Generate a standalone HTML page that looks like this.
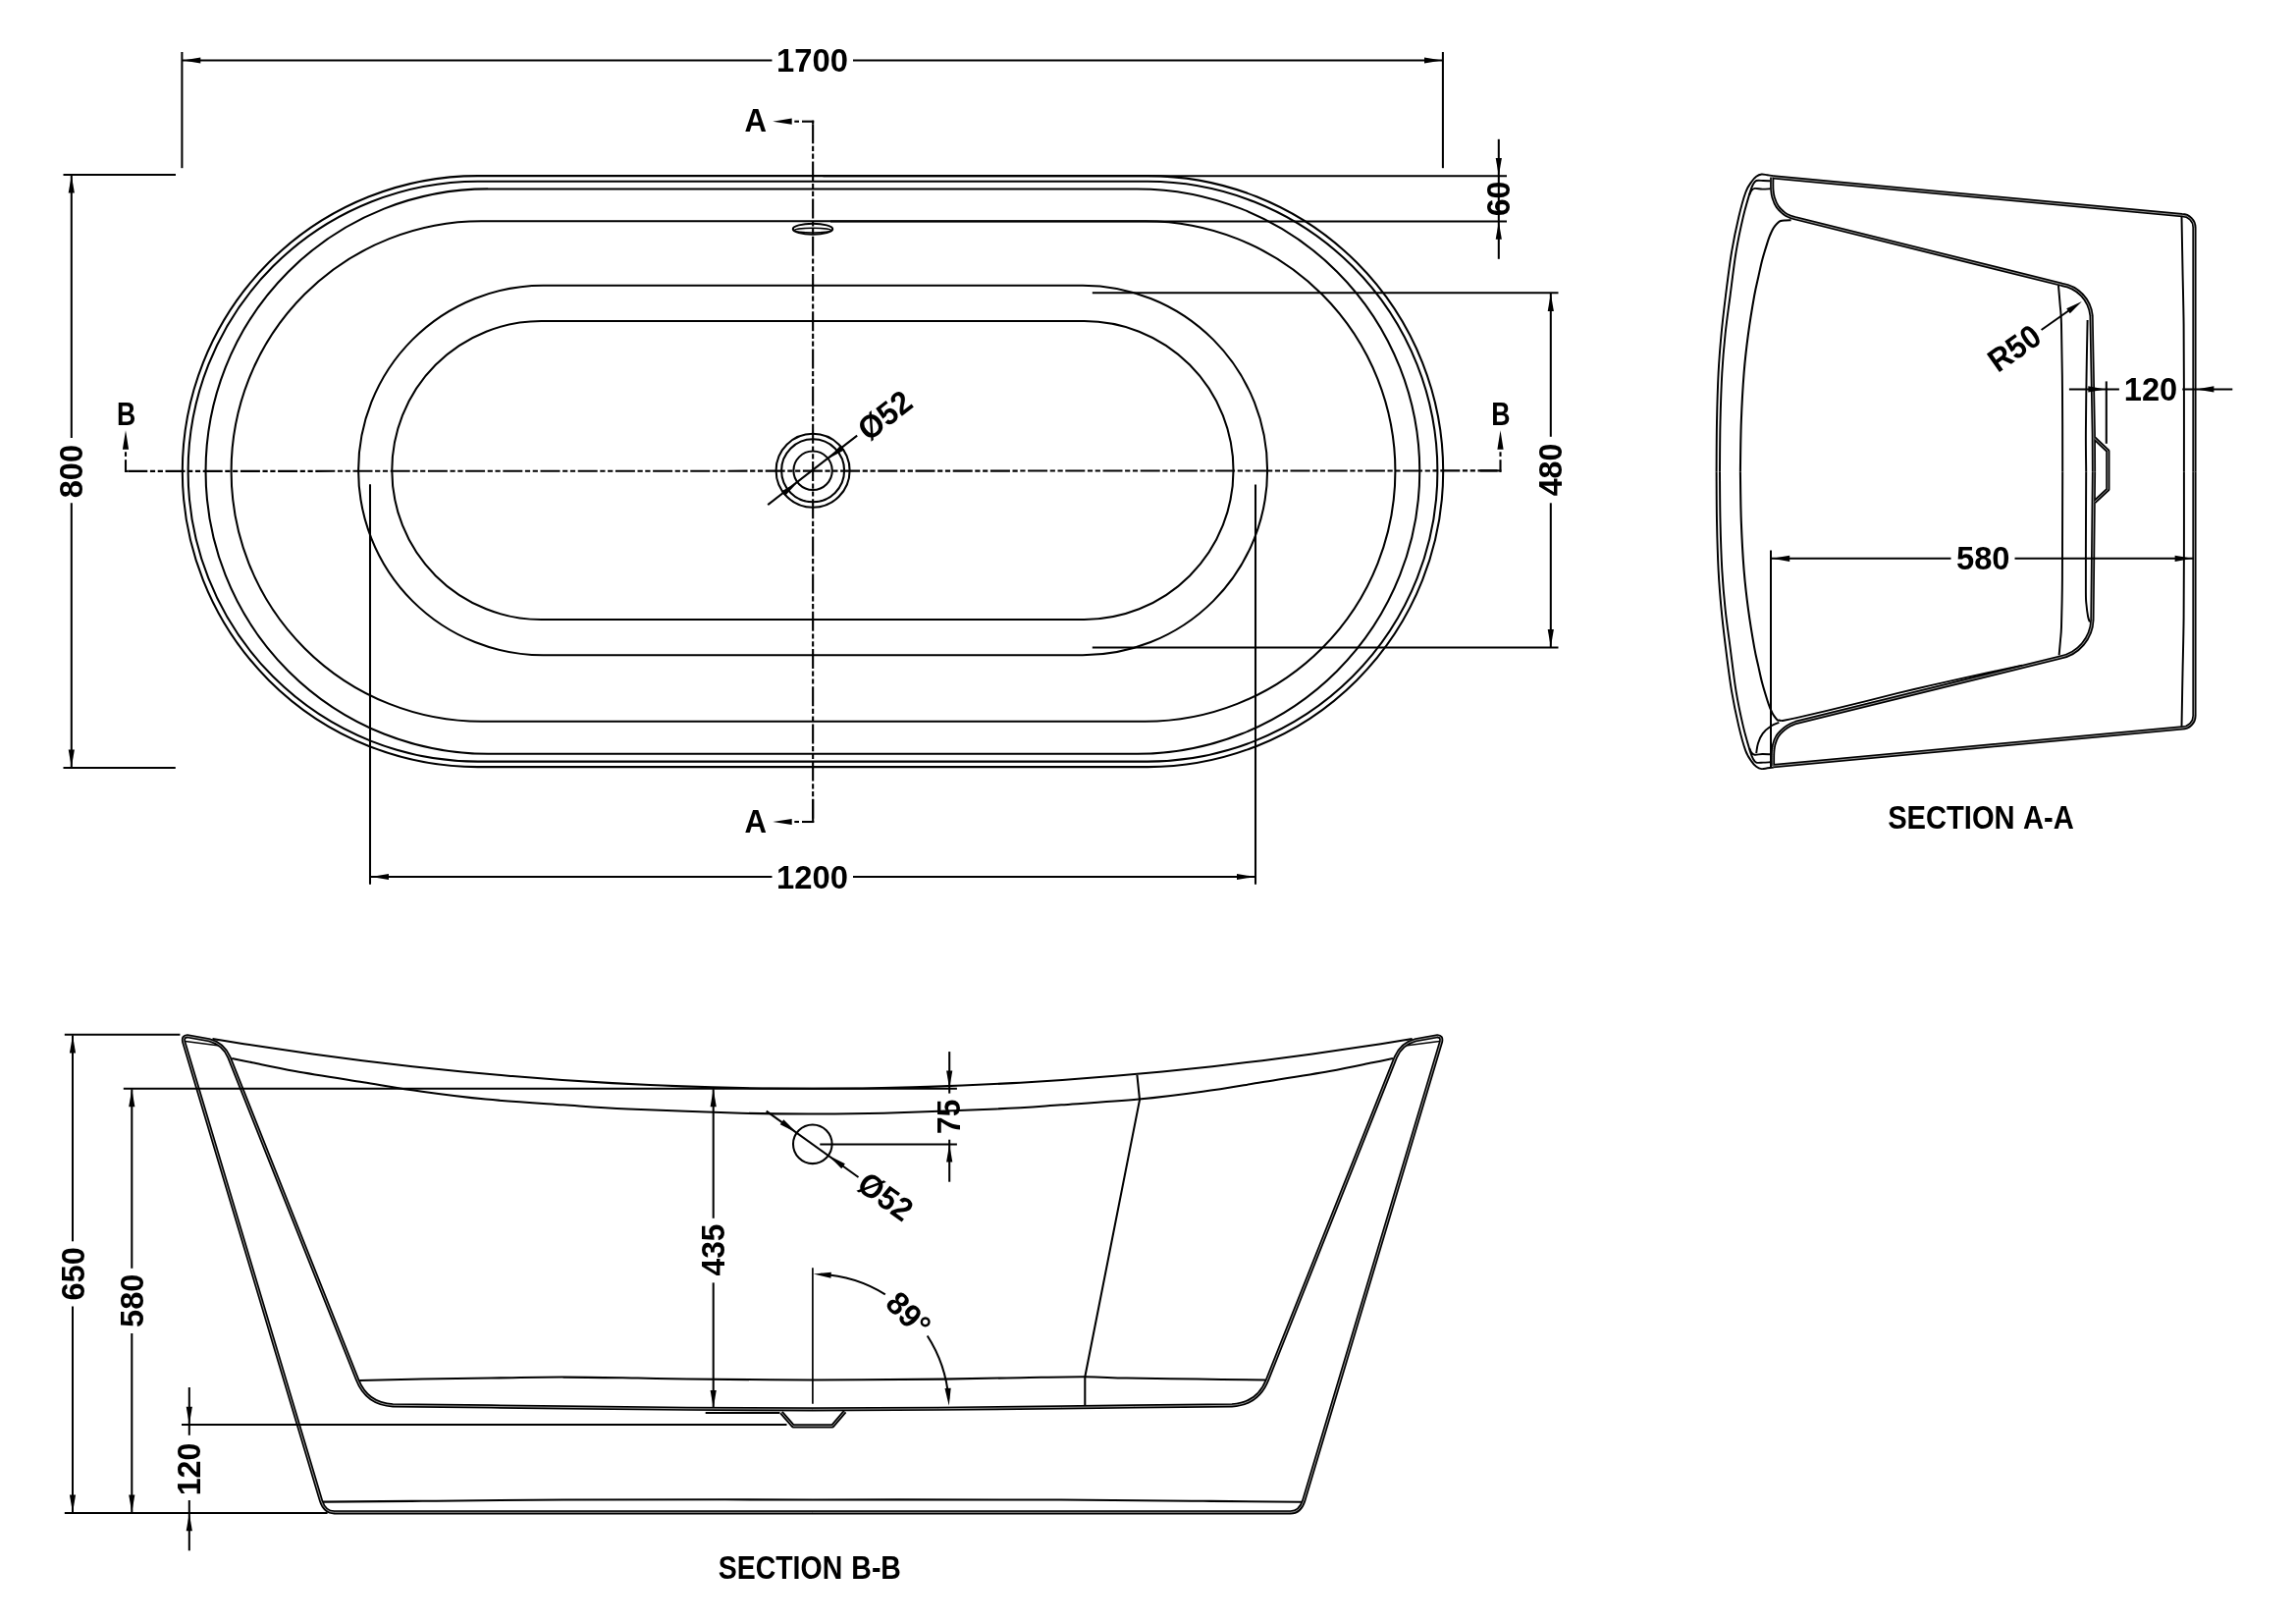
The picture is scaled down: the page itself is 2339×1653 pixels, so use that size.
<!DOCTYPE html>
<html lang="en"><head><meta charset="utf-8"><title>Freestanding bath 1700 x 800 technical drawing</title>
<style>html,body{margin:0;padding:0;background:#fff}body{width:2339px;height:1653px;overflow:hidden}svg{display:block;will-change:transform}</style>
</head><body>
<svg width="2339" height="1653" viewBox="0 0 2339 1653" fill="none" stroke="#000" stroke-width="2.05" stroke-linecap="butt" stroke-linejoin="round" font-family="'Liberation Sans', sans-serif" font-weight="bold">
<style>text{fill:#000;stroke:none}.a{fill:#000;stroke:none}</style>
<g id="plan">
<path d="M486.7 179.1 L1169.3 179.1 A301 301 0 0 1 1169.3 781.1 L486.7 781.1 A301 301 0 0 1 486.7 179.1 Z"/>
<path d="M487 184.8 L1169 184.8 A295.4 295.4 0 0 1 1169 775.6 L487 775.6 A295.4 295.4 0 0 1 487 184.8 Z"/>
<path d="M497.1 192.4 L1158.7 192.4 A287.7 287.7 0 0 1 1158.7 767.8 L497.1 767.8 A287.7 287.7 0 0 1 497.1 192.4 Z"/>
<path d="M490.4 225.2 L1166.6 225.2 A254.8 254.8 0 0 1 1166.6 734.8 L490.4 734.8 A254.8 254.8 0 0 1 490.4 225.2 Z"/>
<path d="M553.3 290.7 L1102.9 290.7 A188.3 188.3 0 0 1 1102.9 667.3 L553.3 667.3 A188.3 188.3 0 0 1 553.3 290.7 Z"/>
<path d="M551.3 327 L1104.5 327 A152 152 0 0 1 1104.5 631 L551.3 631 A152 152 0 0 1 551.3 327 Z"/>
<circle cx="828.1" cy="479.3" r="37.5"/>
<circle cx="828.1" cy="479.3" r="32"/>
<circle cx="828.1" cy="479.3" r="19.7"/>
<ellipse cx="828" cy="233.2" rx="20.2" ry="5.4"/>
<ellipse cx="828" cy="234.6" rx="18.6" ry="2.3" stroke-width="1.4"/>
</g>
<g id="centre" stroke-width="2.1">
<line x1="127.3" y1="479.9" x2="130.3" y2="479.9"/>
<line x1="130.3" y1="479.9" x2="1528.5" y2="479.4" stroke-dasharray="20 2.6 5.2 2.6 5.2 2.6"/>
<line x1="1508" y1="479.4" x2="1529.4" y2="479.4"/>
<line x1="828.15" y1="122.7" x2="828.15" y2="126.2"/>
<line x1="828.15" y1="126.2" x2="828.15" y2="837" stroke-dasharray="20 2.6 5.2 2.6 5.2 2.6"/>
<line x1="828.15" y1="814" x2="828.15" y2="838"/>
<line x1="128" y1="468.2" x2="128" y2="480.9"/>
<line x1="128" y1="460.3" x2="128" y2="464.9"/>
<polygon class="a" points="128,438.2 131.1,457.7 124.9,457.7"/>
<line x1="1528.5" y1="468.2" x2="1528.5" y2="480.9"/>
<line x1="1528.5" y1="460.3" x2="1528.5" y2="464.9"/>
<polygon class="a" points="1528.5,438.2 1531.6,457.7 1525.4,457.7"/>
<line x1="817" y1="123.7" x2="829.2" y2="123.7"/>
<line x1="809.3" y1="123.7" x2="814" y2="123.7"/>
<polygon class="a" points="787.2,123.7 806.7,120.6 806.7,126.8"/>
<line x1="817" y1="837" x2="829.2" y2="837"/>
<line x1="809.3" y1="837" x2="814" y2="837"/>
<polygon class="a" points="787.2,837 806.7,833.9 806.7,840.1"/>
</g>
<g id="dims">
<line x1="185.4" y1="53" x2="185.4" y2="171.2"/>
<line x1="1469.9" y1="53" x2="1469.9" y2="171.2"/>
<line x1="186" y1="61.5" x2="786.5" y2="61.5"/>
<line x1="869" y1="61.5" x2="1469.5" y2="61.5"/>
<polygon class="a" points="186.3,61.5 204.3,58.4 204.3,64.6"/>
<polygon class="a" points="1469,61.5 1451,64.6 1451,58.4"/>
<text font-size="33" transform="translate(827.8 61.75) scale(0.9934 1)" x="-37.04" y="11.34">1700</text>
<line x1="64.5" y1="178" x2="179" y2="178"/>
<line x1="64.5" y1="782" x2="178.8" y2="782"/>
<line x1="72.8" y1="178.5" x2="72.8" y2="446"/>
<line x1="72.8" y1="512.3" x2="72.8" y2="781.5"/>
<polygon class="a" points="72.8,178.6 75.9,196.6 69.7,196.6"/>
<polygon class="a" points="72.8,781.4 69.7,763.4 75.9,763.4"/>
<text font-size="33" transform="translate(72.65 480.3) rotate(-90) scale(0.9879 1)" x="-27.39" y="11.34">800</text>
<line x1="838.4" y1="179.3" x2="1535" y2="179.3"/>
<line x1="846" y1="225.5" x2="1535" y2="225.5"/>
<line x1="1526.8" y1="141.8" x2="1526.8" y2="263.8"/>
<polygon class="a" points="1526.8,179 1523.7,161 1529.9,161"/>
<polygon class="a" points="1526.8,225.8 1529.9,243.8 1523.7,243.8"/>
<text font-size="33" transform="translate(1526.6 202.5) rotate(-90) scale(0.9773 1)" x="-18.27" y="11.34">60</text>
<line x1="1112.8" y1="298.3" x2="1587.5" y2="298.3"/>
<line x1="1112.8" y1="659.5" x2="1587.5" y2="659.5"/>
<line x1="1579.8" y1="298.8" x2="1579.8" y2="444.8"/>
<line x1="1579.8" y1="512.3" x2="1579.8" y2="659"/>
<polygon class="a" points="1579.8,298.9 1582.9,316.9 1576.7,316.9"/>
<polygon class="a" points="1579.8,658.9 1576.7,640.9 1582.9,640.9"/>
<text font-size="33" transform="translate(1579.7 478.9) rotate(-90) scale(0.9772 1)" x="-27.1" y="11.34">480</text>
<line x1="377" y1="493.2" x2="377" y2="900.8"/>
<line x1="1279" y1="493.4" x2="1279" y2="900.8"/>
<line x1="377.5" y1="893" x2="786.5" y2="893"/>
<line x1="869" y1="893" x2="1278.5" y2="893"/>
<polygon class="a" points="378,893 396,889.9 396,896.1"/>
<polygon class="a" points="1278,893 1260,896.1 1260,889.9"/>
<text font-size="33" transform="translate(827.8 893.4) scale(0.9934 1)" x="-37.04" y="11.34">1200</text>
<line x1="782.2" y1="514.1" x2="873.2" y2="443.6"/>
<polygon class="a" points="843.67,467.23 856.54,453.31 860.34,458.21"/>
<polygon class="a" points="812.53,491.37 799.66,505.29 795.86,500.39"/>
<text font-size="33" transform="translate(901.5 423.2) rotate(-37.8) scale(0.9543 1)" x="-31.19" y="11.26">Ø52</text>
<text font-size="33" transform="translate(769.65 122.65) scale(0.9453 1)" x="-11.88" y="11.34">A</text>
<text font-size="33" transform="translate(769.65 836.4) scale(0.9453 1)" x="-11.88" y="11.34">A</text>
<text font-size="33" transform="translate(129.05 421.2) scale(0.8097 1)" x="-12.29" y="11.34">B</text>
<text font-size="33" transform="translate(1529.3 421.2) scale(0.8097 1)" x="-12.29" y="11.34">B</text>
</g>
<g id="bb">
<path d="M827.6 1540.35 L1314.6 1540.3 Q1324.4 1540.3 1328.15 1528.5 L1468.05 1060.8 Q1469.1 1055.4 1464.45 1055.3 L1442.2 1059.25 Q1427.95 1062.75 1421.75 1076.85 L1291.1 1405.3 Q1281.45 1429.95 1255 1431.3 L1155.2 1432.45 L1081.2 1433.4 L955.2 1434.75 L827.6 1435.35 L700 1434.75 L574 1433.4 L500 1432.45 L400.2 1431.3 Q373.75 1429.95 364.1 1405.3 L233.45 1076.85 Q227.25 1062.75 213 1059.25 L190.75 1055.3 Q186.1 1055.4 187.15 1060.8 L327.05 1528.5 Q330.8 1540.3 340.6 1540.3 L827.6 1540.35 Z" stroke-width="4.2"/>
<path d="M796 1438.6 L808 1452.4 L848.1 1452.4 L860.7 1437.6" stroke-width="4.2"/>
<path d="M827.6 1540.35 L1314.6 1540.3 Q1324.4 1540.3 1328.15 1528.5 L1468.05 1060.8 Q1469.1 1055.4 1464.45 1055.3 L1442.2 1059.25 Q1427.95 1062.75 1421.75 1076.85 L1291.1 1405.3 Q1281.45 1429.95 1255 1431.3 L1155.2 1432.45 L1081.2 1433.4 L955.2 1434.75 L827.6 1435.35 L700 1434.75 L574 1433.4 L500 1432.45 L400.2 1431.3 Q373.75 1429.95 364.1 1405.3 L233.45 1076.85 Q227.25 1062.75 213 1059.25 L190.75 1055.3 Q186.1 1055.4 187.15 1060.8 L327.05 1528.5 Q330.8 1540.3 340.6 1540.3 L827.6 1540.35 Z" stroke-width="0.85" stroke="#b0b0b0"/>
<path d="M796 1438.6 L808 1452.4 L848.1 1452.4 L860.7 1437.6" stroke-width="0.85" stroke="#b0b0b0"/>
<line x1="188.6" y1="1060.6" x2="221.6" y2="1064.8" stroke-width="1.5"/>
<line x1="1466.6" y1="1060.6" x2="1433.6" y2="1064.8" stroke-width="1.5"/>
<path d="M216.5 1058 C224.99 1059.35 250.45 1063.52 267.43 1066.11 C284.4 1068.69 301.38 1071.16 318.35 1073.51 C335.33 1075.86 352.3 1078.09 369.27 1080.2 C386.25 1082.32 403.23 1084.31 420.2 1086.19 C437.18 1088.07 454.15 1089.84 471.12 1091.48 C488.1 1093.13 505.07 1094.65 522.05 1096.06 C539.02 1097.47 556 1098.76 572.97 1099.94 C589.95 1101.11 606.93 1102.17 623.9 1103.11 C640.88 1104.05 657.85 1104.87 674.83 1105.58 C691.8 1106.28 708.77 1106.87 725.75 1107.34 C742.73 1107.81 759.7 1108.16 776.68 1108.4 C793.65 1108.63 810.62 1108.75 827.6 1108.75 C844.58 1108.75 861.55 1108.63 878.52 1108.4 C895.5 1108.16 912.48 1107.81 929.45 1107.34 C946.43 1106.87 963.4 1106.28 980.38 1105.58 C997.35 1104.87 1014.32 1104.05 1031.3 1103.11 C1048.28 1102.17 1065.25 1101.11 1082.23 1099.94 C1099.2 1098.76 1116.18 1097.47 1133.15 1096.06 C1150.12 1094.65 1167.1 1093.13 1184.08 1091.48 C1201.05 1089.84 1218.03 1088.07 1235 1086.19 C1251.97 1084.31 1268.95 1082.32 1285.93 1080.2 C1302.9 1078.09 1319.88 1075.86 1336.85 1073.51 C1353.82 1071.16 1370.8 1068.69 1387.78 1066.11 C1404.75 1063.52 1430.21 1059.35 1438.7 1058"/>
<path d="M236.2 1077.9 C239.68 1078.63 246.35 1080.12 257.1 1082.3 C267.85 1084.48 281.88 1087.67 300.7 1091 C319.52 1094.33 348.45 1098.83 370 1102.3 C391.55 1105.77 409.17 1108.92 430 1111.8 C450.83 1114.68 471 1117.35 495 1119.6 C519 1121.85 549.83 1123.67 574 1125.3 C598.17 1126.93 609.83 1128 640 1129.4 C670.17 1130.8 723.73 1132.85 755 1133.7 C786.27 1134.55 803.4 1134.5 827.6 1134.5 C851.8 1134.5 868.93 1134.55 900.2 1133.7 C931.47 1132.85 985.03 1130.8 1015.2 1129.4 C1045.37 1128 1057.03 1126.93 1081.2 1125.3 C1105.37 1123.67 1136.2 1121.85 1160.2 1119.6 C1184.2 1117.35 1204.37 1114.68 1225.2 1111.8 C1246.03 1108.92 1263.65 1105.77 1285.2 1102.3 C1306.75 1098.83 1335.68 1094.33 1354.5 1091 C1373.32 1087.67 1387.35 1084.48 1398.1 1082.3 C1408.85 1080.12 1415.52 1078.63 1419 1077.9"/>
<path d="M366.2 1405.9 C376.83 1405.67 407.7 1404.9 430 1404.5 C452.3 1404.1 476 1403.82 500 1403.5 C524 1403.18 549 1402.58 574 1402.6 C599 1402.62 629 1403.27 650 1403.6 C671 1403.93 670.4 1404.3 700 1404.6 C729.6 1404.9 784.27 1405.4 827.6 1405.4 C870.93 1405.4 924.6 1404.97 960 1404.6 C995.4 1404.23 1015.78 1403.58 1040 1403.2 C1064.22 1402.82 1087.3 1402.23 1105.3 1402.3 C1123.3 1402.37 1128.88 1403.22 1148 1403.6 C1167.12 1403.98 1196.47 1404.28 1220 1404.6 C1243.53 1404.92 1277.67 1405.35 1289.2 1405.5"/>
<path d="M329 1529.6 C345.83 1529.47 389.17 1529.17 430 1528.8 C470.83 1528.43 507.73 1527.63 574 1527.4 C640.27 1527.17 743.1 1527.38 827.6 1527.4 C912.1 1527.42 1014.6 1527.27 1081 1527.5 C1147.4 1527.73 1185.13 1528.42 1226 1528.8 C1266.87 1529.18 1309.5 1529.63 1326.2 1529.8"/>
<path d="M1158.4 1094.8 L1161 1120.1 L1105.3 1402.3 L1105.3 1431"/>
<line x1="718.7" y1="1439" x2="794.5" y2="1439" stroke-width="2.2"/>
<circle cx="827.8" cy="1165.3" r="19.8"/>
</g>
<g id="bbdims">
<line x1="65.8" y1="1053.8" x2="183.4" y2="1053.8"/>
<line x1="65.8" y1="1541" x2="333.6" y2="1541"/>
<line x1="74" y1="1054.3" x2="74" y2="1264.3"/>
<line x1="74" y1="1330.5" x2="74" y2="1540.5"/>
<polygon class="a" points="74,1054.4 77.1,1072.4 70.9,1072.4"/>
<polygon class="a" points="74,1540.4 70.9,1522.4 77.1,1522.4"/>
<text font-size="33" transform="translate(74.2 1297.4) rotate(-90) scale(0.9910 1)" x="-27.47" y="11.34">650</text>
<line x1="125.8" y1="1108.7" x2="974.9" y2="1108.7"/>
<line x1="134.3" y1="1109.2" x2="134.3" y2="1291.8"/>
<line x1="134.3" y1="1358" x2="134.3" y2="1540.5"/>
<polygon class="a" points="134.3,1109.3 137.4,1127.3 131.2,1127.3"/>
<polygon class="a" points="134.3,1540.4 131.2,1522.4 137.4,1522.4"/>
<text font-size="33" transform="translate(134.2 1324.9) rotate(-90) scale(0.9879 1)" x="-27.39" y="11.34">580</text>
<line x1="185" y1="1451" x2="801.5" y2="1451"/>
<line x1="192.8" y1="1413" x2="192.8" y2="1461.8"/>
<line x1="192.8" y1="1528" x2="192.8" y2="1579.3"/>
<polygon class="a" points="192.8,1450.7 189.7,1432.7 195.9,1432.7"/>
<polygon class="a" points="192.8,1541.2 195.9,1559.2 189.7,1559.2"/>
<text font-size="33" transform="translate(192.5 1496.1) rotate(-90) scale(0.9778 1)" x="-27.88" y="11.34">120</text>
<line x1="726.7" y1="1109.2" x2="726.7" y2="1240.8"/>
<line x1="726.7" y1="1306.4" x2="726.7" y2="1433"/>
<polygon class="a" points="726.7,1109.3 729.8,1127.3 723.6,1127.3"/>
<polygon class="a" points="726.7,1434 723.6,1416 729.8,1416"/>
<text font-size="33" transform="translate(726.7 1273.25) rotate(-90) scale(0.9604 1)" x="-27.31" y="11.3">435</text>
<line x1="835.3" y1="1165.4" x2="974.9" y2="1165.4"/>
<line x1="967.2" y1="1071.1" x2="967.2" y2="1113.6"/>
<line x1="967.2" y1="1160.7" x2="967.2" y2="1203.7"/>
<polygon class="a" points="967.2,1108.4 964.1,1090.4 970.3,1090.4"/>
<polygon class="a" points="967.2,1165.6 970.3,1183.6 964.1,1183.6"/>
<text font-size="33" transform="translate(967.1 1137.15) rotate(-90) scale(0.9615 1)" x="-18.56" y="11.18">75</text>
<line x1="780.7" y1="1131.6" x2="874.5" y2="1199"/>
<polygon class="a" points="811.72,1153.75 794.73,1145.35 798.34,1140.32"/>
<polygon class="a" points="843.88,1176.85 860.87,1185.25 857.26,1190.28"/>
<text font-size="33" transform="translate(902.1 1218.6) rotate(35.7) scale(0.9543 1)" x="-31.19" y="11.26">Ø52</text>
<line x1="827.9" y1="1291.3" x2="827.9" y2="1429.7" stroke-width="1.7"/>
<path d="M835.91 1297.77 A137.7 137.7 0 0 1 901.8 1318.36"/>
<path d="M944.72 1360.52 A137.7 137.7 0 0 1 966.38 1424.61"/>
<polygon class="a" points="828.7,1297.6 846.86,1295.67 846.46,1301.86"/>
<polygon class="a" points="966.76,1431.81 962.5,1414.04 968.69,1413.64"/>
<text font-size="33" transform="translate(925.4 1338.3) rotate(45) scale(0.9697 1)" x="-24.79" y="11.34">89°</text>
<text font-size="33" transform="translate(824.65 1596.8) scale(0.8622 1)" x="-107.75" y="11.34" word-spacing="1.5">SECTION B-B</text>
</g>
<g id="aa">
<path d="M1806.5 180.45 L2222.9 219.2 A12.5 12.5 0 0 1 2235.45 231.8 L2235.45 480.3" stroke-width="4.2"/>
<path d="M1806.5 780.15 L2222.9 741.4 A12.5 12.5 0 0 0 2235.45 728.8 L2235.45 480.3" stroke-width="4.2"/>
<path d="M1805.25 180.6 C1805.26 182.68 1805.07 189.64 1805.3 193.1 C1805.53 196.56 1805.74 198.44 1806.65 201.35 C1807.56 204.26 1808.94 207.89 1810.75 210.55 C1812.56 213.21 1815.38 215.62 1817.5 217.3 C1819.62 218.98 1821.58 219.77 1823.5 220.6 C1825.42 221.43 1828.08 222.02 1829 222.3 L2100.5 289.8 A35.5 35.5 0 0 1 2130.55 321.55 L2132.8 442 L2133 480.3" stroke-width="4.2"/>
<path d="M1806 780 C1806.02 777.83 1805.9 770.58 1806.1 767 C1806.3 763.42 1806.45 761.37 1807.2 758.5 C1807.95 755.63 1808.88 752.47 1810.6 749.8 C1812.32 747.13 1815.35 744.38 1817.5 742.5 C1819.65 740.62 1821.48 739.6 1823.5 738.5 C1825.52 737.4 1828.58 736.33 1829.6 735.9 L2099 669.5 A40.5 40.5 0 0 0 2131.4 631.4 L2132.6 520 L2133 480.3" stroke-width="4.2"/>
<path d="M2133.6 446.3 L2147.35 459.2 L2147.35 498.45 L2133.6 511.3" stroke-width="4.2"/>
<path d="M1806.5 180.45 L2222.9 219.2 A12.5 12.5 0 0 1 2235.45 231.8 L2235.45 480.3" stroke-width="0.85" stroke="#b0b0b0"/>
<path d="M1806.5 780.15 L2222.9 741.4 A12.5 12.5 0 0 0 2235.45 728.8 L2235.45 480.3" stroke-width="0.85" stroke="#b0b0b0"/>
<path d="M1805.25 180.6 C1805.26 182.68 1805.07 189.64 1805.3 193.1 C1805.53 196.56 1805.74 198.44 1806.65 201.35 C1807.56 204.26 1808.94 207.89 1810.75 210.55 C1812.56 213.21 1815.38 215.62 1817.5 217.3 C1819.62 218.98 1821.58 219.77 1823.5 220.6 C1825.42 221.43 1828.08 222.02 1829 222.3 L2100.5 289.8 A35.5 35.5 0 0 1 2130.55 321.55 L2132.8 442 L2133 480.3" stroke-width="0.85" stroke="#b0b0b0"/>
<path d="M1806 780 C1806.02 777.83 1805.9 770.58 1806.1 767 C1806.3 763.42 1806.45 761.37 1807.2 758.5 C1807.95 755.63 1808.88 752.47 1810.6 749.8 C1812.32 747.13 1815.35 744.38 1817.5 742.5 C1819.65 740.62 1821.48 739.6 1823.5 738.5 C1825.52 737.4 1828.58 736.33 1829.6 735.9 L2099 669.5 A40.5 40.5 0 0 0 2131.4 631.4 L2132.6 520 L2133 480.3" stroke-width="0.85" stroke="#b0b0b0"/>
<path d="M2133.6 446.3 L2147.35 459.2 L2147.35 498.45 L2133.6 511.3" stroke-width="0.85" stroke="#b0b0b0"/>
<path d="M1748.6 480.3 C1748.67 471.92 1748.67 446.72 1749 430 C1749.33 413.28 1749.83 395 1750.6 380 C1751.37 365 1752.37 353.17 1753.6 340 C1754.83 326.83 1756.27 314.83 1758 301 C1759.73 287.17 1761.78 270.33 1764 257 C1766.22 243.67 1768.92 231.17 1771.3 221 C1773.68 210.83 1776.13 201.97 1778.3 196 C1780.47 190.03 1782.48 187.9 1784.3 185.2 C1786.12 182.5 1787.48 181.08 1789.2 179.8 C1790.92 178.52 1792.72 177.75 1794.6 177.5 C1796.48 177.25 1798.47 178.03 1800.5 178.3 C1802.53 178.57 1805.75 178.97 1806.8 179.1" stroke-width="1.95"/>
<path d="M1752 480.3 C1752.08 471.92 1752.12 446.72 1752.5 430 C1752.88 413.28 1753.45 395 1754.3 380 C1755.15 365 1756.22 353.17 1757.6 340 C1758.98 326.83 1760.78 314.83 1762.6 301 C1764.42 287.17 1766.3 270.33 1768.5 257 C1770.7 243.67 1773.45 231.08 1775.8 221 C1778.15 210.92 1780.93 202 1782.6 196.5 C1784.27 191 1784.7 190.08 1785.8 188 C1786.9 185.92 1787.47 184.67 1789.2 184 C1790.93 183.33 1793.85 183.95 1796.2 184 C1798.55 184.05 1802.12 184.25 1803.3 184.3" stroke-width="1.95"/>
<path d="M1782.2 198.5 C1782.53 197.78 1783.3 195.3 1784.2 194.2 C1785.1 193.1 1785.75 192.17 1787.6 191.9 C1789.45 191.63 1792.68 192.53 1795.3 192.6 C1797.92 192.67 1801.97 192.35 1803.3 192.3" stroke-width="1.95"/>
<path d="M2222.5 220.8 C2222.67 229.83 2223.15 256.63 2223.5 275 C2223.85 293.37 2224.37 310.17 2224.6 331 C2224.83 351.83 2224.85 375.12 2224.9 400 C2224.95 424.88 2224.9 466.92 2224.9 480.3" stroke-width="1.95"/>
<path d="M1748.6 480.3 C1748.67 488.68 1748.67 513.88 1749 530.6 C1749.33 547.32 1749.83 565.6 1750.6 580.6 C1751.37 595.6 1752.37 607.43 1753.6 620.6 C1754.83 633.77 1756.27 645.77 1758 659.6 C1759.73 673.43 1761.78 690.27 1764 703.6 C1766.22 716.93 1768.92 729.43 1771.3 739.6 C1773.68 749.77 1776.13 758.63 1778.3 764.6 C1780.47 770.57 1782.48 772.7 1784.3 775.4 C1786.12 778.1 1787.48 779.52 1789.2 780.8 C1790.92 782.08 1792.72 782.85 1794.6 783.1 C1796.48 783.35 1798.47 782.57 1800.5 782.3 C1802.53 782.03 1805.75 781.63 1806.8 781.5" stroke-width="1.95"/>
<path d="M1752 480.3 C1752.08 488.68 1752.12 513.88 1752.5 530.6 C1752.88 547.32 1753.45 565.6 1754.3 580.6 C1755.15 595.6 1756.22 607.43 1757.6 620.6 C1758.98 633.77 1760.78 645.77 1762.6 659.6 C1764.42 673.43 1766.3 690.27 1768.5 703.6 C1770.7 716.93 1773.45 729.52 1775.8 739.6 C1778.15 749.68 1780.93 758.6 1782.6 764.1 C1784.27 769.6 1784.7 770.52 1785.8 772.6 C1786.9 774.68 1787.47 775.93 1789.2 776.6 C1790.93 777.27 1793.85 776.65 1796.2 776.6 C1798.55 776.55 1802.12 776.35 1803.3 776.3" stroke-width="1.95"/>
<path d="M1782.2 762.1 C1782.53 762.82 1783.3 765.3 1784.2 766.4 C1785.1 767.5 1785.75 768.43 1787.6 768.7 C1789.45 768.97 1792.68 768.07 1795.3 768 C1797.92 767.93 1801.97 768.25 1803.3 768.3" stroke-width="1.95"/>
<path d="M2222.5 739.8 C2222.67 730.77 2223.15 703.97 2223.5 685.6 C2223.85 667.23 2224.37 650.43 2224.6 629.6 C2224.83 608.77 2224.85 585.48 2224.9 560.6 C2224.95 535.72 2224.9 493.68 2224.9 480.3" stroke-width="1.95"/>
<path d="M2126.6 326.1 C2126.43 335.08 2125.88 361.02 2125.6 380 C2125.32 398.98 2124.97 423.28 2124.9 440 C2124.83 456.72 2125.15 473.58 2125.2 480.3" stroke-width="1.95"/>
<path d="M2097 291 C2097.27 294.17 2098.1 303.33 2098.6 310 C2099.1 316.67 2099.6 316 2100 331 C2100.4 346 2100.8 375.12 2101 400 C2101.2 424.88 2101.17 466.92 2101.2 480.3" stroke-width="1.95"/>
<path d="M1824.6 224.25 C1823.67 224.28 1820.77 224.28 1819 224.4 C1817.23 224.53 1815.37 224.53 1814 225 C1812.63 225.47 1811.8 226.3 1810.8 227.2 C1809.8 228.1 1808.87 229.23 1808 230.4 C1807.13 231.57 1806.43 232.6 1805.6 234.2 C1804.77 235.8 1803.85 237.85 1803 240 C1802.15 242.15 1801.78 243.02 1800.5 247.1 C1799.22 251.18 1796.83 258.68 1795.3 264.5 C1793.77 270.32 1792.65 275.92 1791.3 282 C1789.95 288.08 1788.92 291.33 1787.2 301 C1785.48 310.67 1782.77 326.83 1781 340 C1779.23 353.17 1777.8 365 1776.6 380 C1775.4 395 1774.42 413.28 1773.8 430 C1773.18 446.72 1773.05 471.92 1772.9 480.3" stroke-width="2.05"/>
<path d="M2128.9 633.5 C2128.6 632.58 2127.68 631.08 2127.1 628 C2126.52 624.92 2125.77 619.07 2125.4 615 C2125.03 610.93 2124.98 612.77 2124.9 603.6 C2124.82 594.43 2124.85 580.55 2124.9 560 C2124.95 539.45 2125.15 493.58 2125.2 480.3" stroke-width="1.95"/>
<path d="M2097.6 667.3 C2097.83 664.75 2098.6 656.82 2099 652 C2099.4 647.18 2099.7 647.07 2100 638.4 C2100.3 629.73 2100.63 613.07 2100.8 600 C2100.97 586.93 2100.93 579.95 2101 560 C2101.07 540.05 2101.17 493.58 2101.2 480.3" stroke-width="1.95"/>
<path d="M1814.8 734.2 C1814.42 734.1 1813.17 733.73 1812.5 733.6 C1811.83 733.47 1811.55 733.97 1810.8 733.4 C1810.05 732.83 1808.87 731.37 1808 730.2 C1807.13 729.03 1806.43 728 1805.6 726.4 C1804.77 724.8 1803.85 722.75 1803 720.6 C1802.15 718.45 1801.78 717.58 1800.5 713.5 C1799.22 709.42 1796.83 701.92 1795.3 696.1 C1793.77 690.28 1792.65 684.68 1791.3 678.6 C1789.95 672.52 1788.92 669.27 1787.2 659.6 C1785.48 649.93 1782.77 633.77 1781 620.6 C1779.23 607.43 1777.8 595.6 1776.6 580.6 C1775.4 565.6 1774.42 547.32 1773.8 530.6 C1773.18 513.88 1773.05 488.68 1772.9 480.3" stroke-width="2.05"/>
<path d="M1789.2 767.1 C1789.5 765.42 1789.92 760.33 1791 757 C1792.08 753.67 1793.45 750.05 1795.7 747.1 C1797.95 744.15 1801.73 741.18 1804.5 739.3 C1807.27 737.42 1811 736.38 1812.3 735.8" stroke-width="1.95"/>
<path d="M1814.8 734.2 C1817.33 733.7 1822.47 732.87 1830 731.2 C1837.53 729.53 1848.33 727.02 1860 724.2 C1871.67 721.38 1885 718 1900 714.3 C1915 710.6 1933.33 705.95 1950 702 C1966.67 698.05 1981.67 694.65 2000 690.6 C2018.33 686.55 2050 679.85 2060 677.7" stroke-width="1.85"/>
</g>
<g id="aadims">
<line x1="1804" y1="560.5" x2="1804" y2="781"/>
<line x1="1805" y1="568.8" x2="1987.5" y2="568.8"/>
<line x1="2052.5" y1="568.8" x2="2235" y2="568.8"/>
<polygon class="a" points="1805.2,568.8 1823.2,565.7 1823.2,571.9"/>
<polygon class="a" points="2233.6,568.8 2215.6,571.9 2215.6,565.7"/>
<text font-size="33" transform="translate(2020.1 569) scale(0.9927 1)" x="-27.39" y="11.34">580</text>
<line x1="2107.9" y1="396.4" x2="2158.9" y2="396.4"/>
<line x1="2223.3" y1="396.4" x2="2274.3" y2="396.4"/>
<polygon class="a" points="2144.8,396.4 2127.3,399.5 2127.3,393.3"/>
<polygon class="a" points="2237.4,396.4 2255.4,393.3 2255.4,399.5"/>
<line x1="2145.8" y1="388.4" x2="2145.8" y2="451.8"/>
<text font-size="33" transform="translate(2191.3 396.9) scale(0.9875 1)" x="-27.88" y="11.34">120</text>
<line x1="2079.6" y1="336" x2="2113" y2="312.5"/>
<polygon class="a" points="2120.9,307 2108.77,319.31 2105.21,314.24"/>
<text font-size="33" transform="translate(2052.3 354.5) rotate(-35.1) scale(0.9398 1)" x="-30.69" y="11.34">R50</text>
<text font-size="33" transform="translate(2018 833.1) scale(0.8832 1)" x="-107.42" y="11.34" word-spacing="1.5">SECTION A-A</text>
</g>
</svg>
</body></html>
